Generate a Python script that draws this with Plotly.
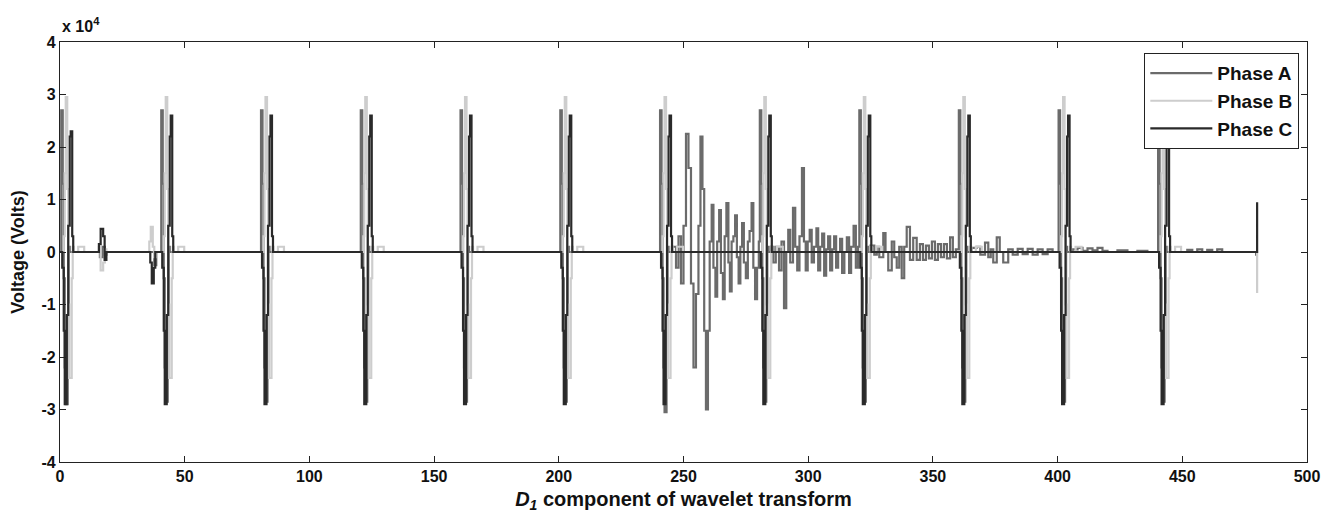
import plotly.graph_objects as go

# ---------------- data (voltage in units of 1e4 V, x = D1 sample index) ----------------
BURST_CENTERS = [2.5, 42.6, 82.6, 122.6, 162.6, 202.6, 242.6, 282.6, 322.5, 362.4, 402.4, 442.3]

# burst template per phase: offsets from burst centre and values
A_BURST_DT = [-2.0, -1.4, -1.0, -0.6, -0.2, 0.6, 1.0, 1.4]
A_BURST_V = [2.7, 1.3, -0.5, -2.2, -2.85, -1.2, 0.1, 0.0]
A_TROUGHS = [-2.9, -2.85, -2.85, -2.85, -2.85, -2.85, -3.05, -2.85, -2.85, -2.85, -2.85, -2.85]

B_BURST_DT = [-1.0, -0.6, -0.2, 0.4, 0.8, 1.2, 2.2, 2.6, 3.0, 4.8, 7.2]
B_BURST_V = [0.3, 1.5, 2.95, 1.2, -1.0, -2.4, -0.5, 0.1, 0.0, 0.1, 0.0]

C_BURST_DT = [-1.6, -1.0, -0.6, 0.2, 0.8, 1.4, 1.8, 2.4, 2.8]
C_BURST_V = [-0.3, -1.5, -2.9, -1.2, 0.5, 2.2, 2.6, 0.3, 0.0]
C_PEAKS = [2.3, 2.6, 2.6, 2.6, 2.6, 2.6, 2.6, 2.6, 2.6, 2.6, 2.6, 2.6]

# phase A post-fault oscillations between bursts
A_OSC_T = [245.5, 247.0, 248.0, 249.0, 250.0, 251.0, 252.0, 253.0, 254.0, 255.0, 256.0, 256.8,
           257.6, 258.3, 259.0, 259.8, 260.5, 261.3, 262.0, 262.8, 263.5, 264.3, 265.0, 265.8,
           266.5, 267.2, 268.0, 268.6, 269.3, 270.0, 270.7, 271.4, 272.1, 272.8, 273.5, 274.2,
           275.0, 275.8, 276.5, 277.3, 278.0, 278.7, 279.5, 280.2,
           285.0, 286.0, 287.0, 288.3, 289.3, 290.3, 291.2, 292.0, 292.8, 293.9, 294.8, 295.6,
           296.5, 297.5, 298.3, 299.0, 299.8, 300.6, 301.4, 302.3, 303.3, 304.0, 304.8, 305.6,
           306.4, 307.2, 308.0, 308.8, 309.6, 310.4, 311.2, 312.0, 312.8, 313.6, 314.5, 315.5,
           316.4, 317.2, 318.2, 319.1, 320.0,
           325.0, 326.5, 327.5, 328.5, 330.1, 331.0, 332.1, 333.5, 334.5, 335.5, 336.5, 337.5,
           338.5, 339.5, 340.8, 342.1, 343.5, 344.8, 346.0, 347.2, 348.4, 349.6, 350.8, 352.0,
           353.2, 354.4, 355.6, 356.9, 358.0, 359.2,
           365.5, 367.5, 369.0, 370.9, 372.2, 373.2, 374.2, 375.6, 376.8, 378.2, 380.2, 382.0,
           384.0, 386.0, 388.0, 390.0, 392.0, 394.0, 396.0, 398.0,
           406.0, 408.0, 410.0, 412.0, 414.0, 416.0, 418.0, 420.0, 424.0, 428.0, 432.0, 436.0,
           452.0, 454.0, 456.0, 458.0, 460.0, 462.0, 464.0, 466.0, 468.0, 479.6, 480.0]
A_OSC_V = [0.1, -0.3, 0.3, -0.6, 0.5, 2.25, 1.6, -0.6, -2.2, -0.8, 0.5, 2.2,
           1.2, -1.5, -3.0, -1.5, 0.2, 0.9, -0.3, -0.85, 0.2, 0.8, -0.4, -0.9,
           0.3, 0.93, -0.2, -0.75, 0.2, 0.3, 0.7, -0.1, -0.6, 0.1, 0.55, -0.2,
           -0.5, 0.2, 0.4, 0.93, -0.3, -0.9, -0.3, 0.2,
           0.1, -0.2, 0.1, -0.35, 0.2, -1.07, 0.0, 0.42, -0.2, 0.84, 0.1, -0.35,
           0.3, 1.6, 0.2, -0.35, 0.2, 0.42, -0.2, 0.1, 0.45, -0.35, 0.1, 0.35,
           -0.45, 0.05, 0.3, -0.35, 0.05, 0.3, -0.3, 0.0, 0.25, -0.4, 0.0, 0.28,
           -0.4, 0.1, 0.5, -0.3, 0.1,
           0.12, -0.05, 0.1, -0.1, 0.36, 0.0, -0.35, 0.2, -0.1, -0.3, 0.1, -0.5,
           0.1, 0.48, -0.15, 0.27, -0.15, 0.15, -0.15, 0.12, -0.12, 0.2, -0.15, 0.15,
           -0.1, 0.15, -0.12, 0.28, -0.1, 0.05,
           0.08, 0.1, -0.05, 0.18, -0.1, 0.05, -0.2, 0.28, 0.0, -0.2, 0.05, -0.05,
           0.06, -0.04, 0.06, -0.05, 0.05, -0.04, 0.05, 0.0,
           0.05, 0.08, 0.02, 0.07, 0.03, 0.08, 0.02, 0.0, 0.03, 0.0, 0.02, 0.0,
           0.04, 0.0, 0.05, 0.0, 0.04, 0.0, 0.05, 0.0, 0.0, -0.05, -0.05]

A_EXTRA_T = [16.0, 17.0, 18.0, 18.6, 37.8, 38.6]
A_EXTRA_V = [-0.1, 0.1, -0.05, 0.0, -0.25, 0.0]
B_EXTRA_T = [15.6, 16.3, 17.3, 18.0, 18.6, 35.8, 36.4, 37.2, 37.8, 38.4, 479.8, 480.0]
B_EXTRA_V = [0.1, -0.35, -0.2, 0.05, 0.0, 0.2, 0.48, 0.1, -0.1, 0.0, 0.0, -0.78]
C_EXTRA_T = [15.6, 16.3, 17.3, 17.9, 18.6, 36.2, 36.8, 37.6, 38.2, 479.8, 480.0]
C_EXTRA_V = [0.15, 0.44, 0.3, -0.15, 0.0, -0.2, -0.6, -0.3, 0.0, 0.0, 0.95]

X_TICKS = [0, 50, 100, 150, 200, 250, 300, 350, 400, 450, 500]
Y_TICKS = [-4, -3, -2, -1, 0, 1, 2, 3, 4]
SERIES_NAMES = ["Phase A", "Phase B", "Phase C"]
COLORS = ["#6b6b6b", "#cdcdcd", "#2a2a2a"]


def build(dts, vals, override_idx, overrides, extra_t, extra_v):
    pts = [(0.0, 0.0)]
    for k, c in enumerate(BURST_CENTERS):
        for j, (dt, v) in enumerate(zip(dts, vals)):
            if override_idx is not None and j == override_idx:
                v = overrides[k]
            pts.append((c + dt, v))
    pts += list(zip(extra_t, extra_v))
    pts.sort(key=lambda p: p[0])
    return [p[0] for p in pts], [p[1] for p in pts]


ax, ay = build(A_BURST_DT, A_BURST_V, 4, A_TROUGHS, A_OSC_T + A_EXTRA_T, A_OSC_V + A_EXTRA_V)
bx, by = build(B_BURST_DT, B_BURST_V, None, None, B_EXTRA_T, B_EXTRA_V)
cx, cy = build(C_BURST_DT, C_BURST_V, 6, C_PEAKS, C_EXTRA_T, C_EXTRA_V)

FONT = "Liberation Sans, Arial, sans-serif"

fig = go.Figure()
for name, (xs, ys), col in zip(SERIES_NAMES, [(ax, ay), (bx, by), (cx, cy)], COLORS):
    fig.add_trace(go.Scatter(x=xs, y=ys, mode="lines", name=name,
                             line=dict(color=col, width=2.2, shape="hv")))

axis_common = dict(showline=True, linecolor="#222", linewidth=1.3, mirror="ticks",
                   ticks="inside", ticklen=6, tickwidth=1.3, tickcolor="#222",
                   showgrid=False, zeroline=False,
                   tickfont=dict(family=FONT, size=16, color="#111", weight="bold"))

# the page body adds an 8 px offset, so the figure is sized to the remaining window
fig.update_layout(
    width=1328, height=507,
    margin=dict(l=52, r=29, t=34, b=53),
    paper_bgcolor="white", plot_bgcolor="white",
    xaxis=dict(range=[0, 500], tickvals=X_TICKS, ticktext=[str(t) for t in X_TICKS],
               title=dict(text="<i>D<sub>1</sub></i> component of wavelet transform",
                          font=dict(family=FONT, size=20, color="#111", weight="bold"),
                          standoff=7),
               automargin=False,
               **axis_common),
    yaxis=dict(range=[-4, 4], tickvals=Y_TICKS, ticktext=[str(t) for t in Y_TICKS],
               title=dict(text="Voltage (Volts)",
                          font=dict(family=FONT, size=18, color="#111", weight="bold"),
                          standoff=12),
               automargin=False,
               **axis_common),
    legend=dict(x=0.9936, xanchor="right", y=0.974, yanchor="top",
                bgcolor="white", bordercolor="#222", borderwidth=1.3,
                font=dict(family=FONT, size=19, color="#111", weight="bold"),
                itemwidth=62),
    annotations=[dict(text="x 10<sup>4</sup>", xref="paper", yref="paper",
                      x=0.0, y=1.0, xanchor="left", yanchor="bottom", yshift=5, showarrow=False,
                      font=dict(family=FONT, size=16, color="#111", weight="bold"))],
)

fig.write_html("out.html")
